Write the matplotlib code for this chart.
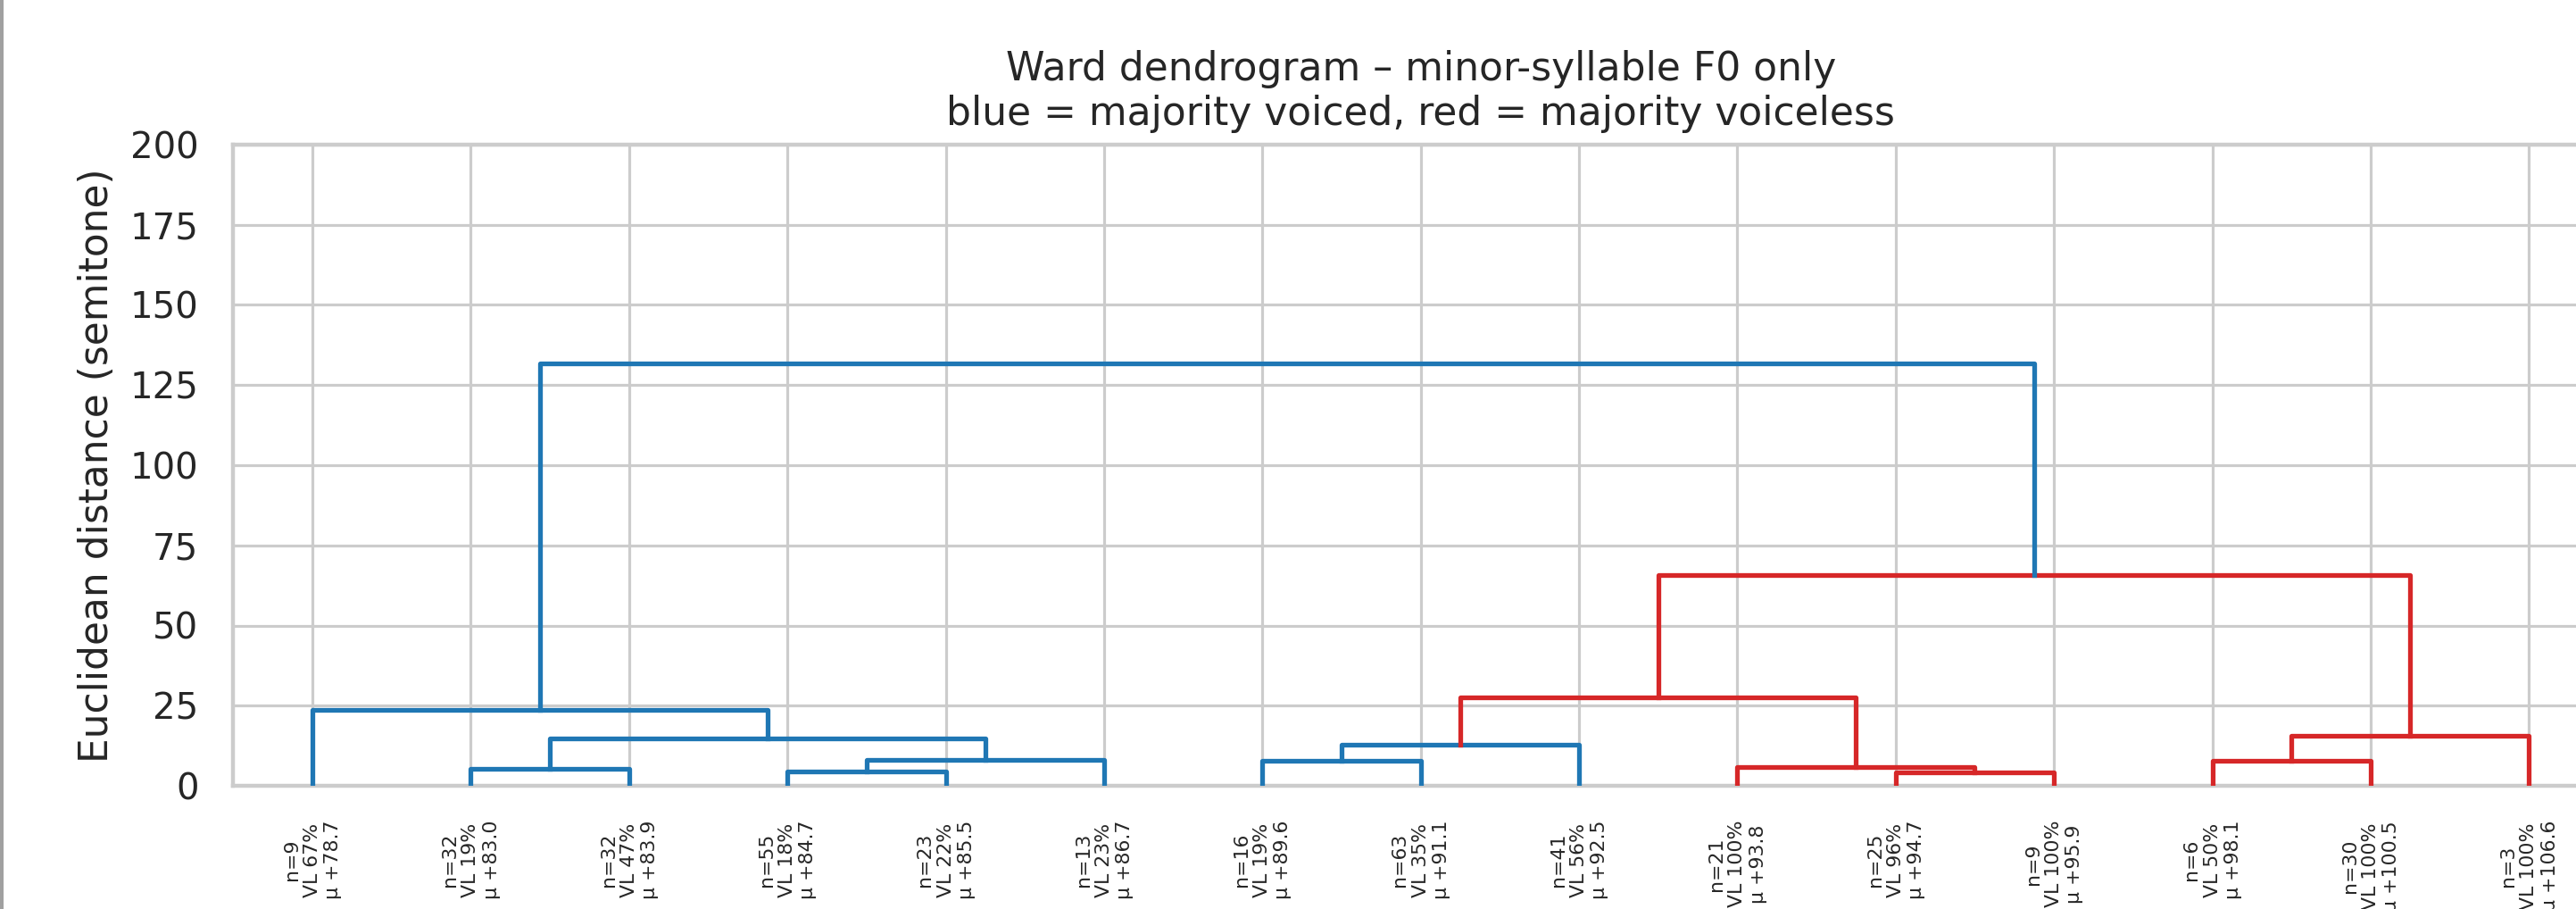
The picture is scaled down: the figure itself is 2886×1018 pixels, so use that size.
import matplotlib
matplotlib.use("Agg")
import matplotlib.pyplot as plt
from matplotlib.patches import Rectangle

# ---- data -------------------------------------------------------------
leaf_n = [9, 32, 32, 55, 23, 13, 16, 63, 41, 21, 25, 9, 6, 30, 3]
leaf_vl = [67, 19, 47, 18, 22, 23, 19, 35, 56, 100, 96, 100, 50, 100, 100]
leaf_mu = [78.7, 83.0, 83.9, 84.7, 85.5, 86.7, 89.6, 91.1, 92.5, 93.8,
           94.7, 95.9, 98.1, 100.5, 106.6]

# merges: (left node, right node, height); new node ids start at 15
merge_left = [1, 3, 16, 15, 0, 6, 20, 10, 9, 21, 12, 25, 24, 19]
merge_right = [2, 4, 5, 17, 18, 7, 8, 11, 22, 23, 13, 14, 26, 27]
merge_height = [5.3, 4.4, 8.2, 14.9, 23.7, 7.8, 12.8, 4.2, 5.8, 27.7,
                7.7, 15.6, 65.6, 131.8]
merge_color = ["blue", "blue", "blue", "blue", "blue", "blue", "blue",
               "red", "red", "red", "red", "red", "red", "blue"]

yticks = [0, 25, 50, 75, 100, 125, 150, 175, 200]
title = ("Ward dendrogram \u2013 minor-syllable F0 only\n"
         "blue = majority voiced, red = majority voiceless")
ylabel = "Euclidean distance (semitone)"

# ---- style ------------------------------------------------------------
TXT = "#262626"
GRID = "#cccccc"
COLORS = {"blue": "#1f77b4", "red": "#d62728"}
plt.rcParams["font.family"] = ["DejaVu Sans"]

W, H, DPI = 2886, 1018, 100
fig = plt.figure(figsize=(W / DPI, H / DPI), dpi=DPI)
fig.patch.set_facecolor("white")

ax_left, ax_right, ax_top, ax_bot = 261.3, 2922.0, 162.0, 880.0
ax = fig.add_axes([ax_left / W, 1 - ax_bot / H,
                   (ax_right - ax_left) / W, (ax_bot - ax_top) / H])
ax.set_facecolor("white")

# ---- dendrogram geometry (scipy convention: leaf i at 10*i + 5) -------
n_leaves = len(leaf_n)
pos = {i: 10 * i + 5 for i in range(n_leaves)}
hgt = {i: 0.0 for i in range(n_leaves)}
for k, (l, r, h, c) in enumerate(zip(merge_left, merge_right,
                                     merge_height, merge_color)):
    xl, xr = pos[l], pos[r]
    ax.plot([xl, xl, xr, xr], [hgt[l], h, h, hgt[r]],
            color=COLORS[c], lw=3.8, zorder=3)
    node = n_leaves + k
    pos[node] = (xl + xr) / 2
    hgt[node] = h

labels = [f"n={n}\nVL {v}%\n\u03bc +{m:.1f}"
          for n, v, m in zip(leaf_n, leaf_vl, leaf_mu)]
ax.set_xticks([pos[i] for i in range(n_leaves)])
ax.set_xticklabels(labels, rotation=90, fontsize=15.8, color=TXT)
ax.set_xlim(0, 10 * n_leaves)
ax.set_ylim(0, 200)
ax.set_yticks(yticks)
ax.set_yticklabels([str(t) for t in yticks], fontsize=29.0, color=TXT)
ax.tick_params(axis="both", length=0, pad=28)

ax.grid(True, color=GRID, lw=2.3, zorder=0)
ax.set_axisbelow(True)
for sp in ax.spines.values():
    sp.set_color(GRID)
    sp.set_linewidth(3.2)

ax.set_ylabel(ylabel, fontsize=31.6, color=TXT, labelpad=11)
ax.set_title(title, fontsize=31.7, color=TXT, pad=16)

# left border strip seen in the reference
fig.patches.append(Rectangle((0, 0), 4 / W, 1, transform=fig.transFigure,
                             facecolor="#a0a0a0", edgecolor="none"))

fig.savefig("out.png", dpi=DPI)
